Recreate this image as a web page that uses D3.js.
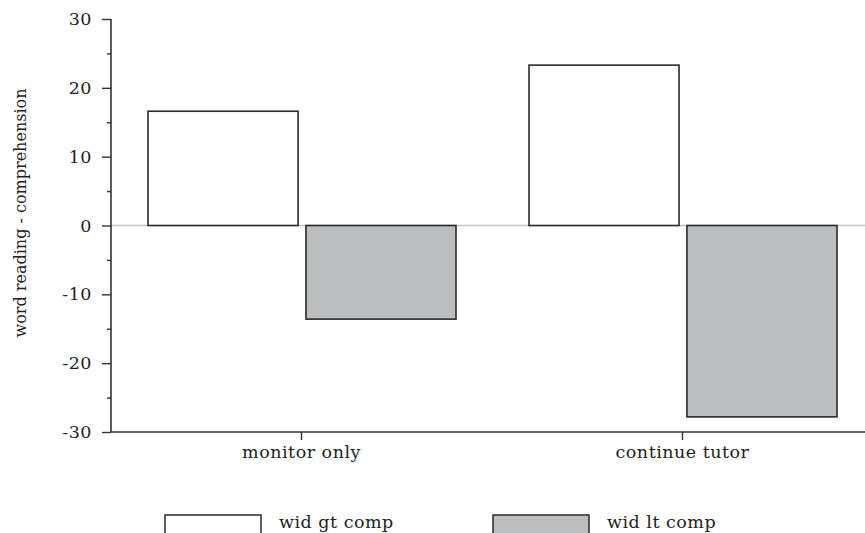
<!DOCTYPE html>
<html>
<head>
<meta charset="utf-8">
<script src="https://cdn.jsdelivr.net/npm/d3@7"></script>
<style>
  html, body { margin: 0; padding: 0; background: #fff; }
  svg { display: block; }
  text { font-family: "DejaVu Serif", serif; fill: #222; }
</style>
</head>
<body>
<svg id="chart" width="865" height="533"></svg>
<script>
const categories = ["monitor only", "continue tutor"];
const seriesNames = ["wid gt comp", "wid lt comp"];
const seriesColors = ["#ffffff", "#bcbdbf"];
const widGtComp = [16.6, 23.3];
const widLtComp = [-13.6, -27.8];
const yTicks = [-30, -20, -10, 0, 10, 20, 30];
const yMinorTicks = [-25, -15, -5, 5, 15, 25];
const yLabel = "word reading - comprehension";

const series = [widGtComp, widLtComp];
const svg = d3.select("#chart");
const fontSize = 17.5;
const spacing = 0.5;

const x0 = 111, yTop = 19, yBot = 432;
const y = d3.scaleLinear().domain([-30, 30]).range([yBot, yTop]);
const xBand = d3.scaleBand().domain(categories).range([x0, x0 + 762]).paddingInner(0).paddingOuter(0);
const xInner = d3.scaleBand().domain(d3.range(series.length)).range([37, xBand.bandwidth() - 36]).paddingInner(0.05);

// zero reference line
svg.append("line")
  .attr("x1", x0).attr("x2", 865)
  .attr("y1", y(0)).attr("y2", y(0))
  .attr("stroke", "#c4c4c4").attr("stroke-width", 1.5);

// bars
categories.forEach((c, i) => {
  series.forEach((s, j) => {
    const v = s[i];
    svg.append("rect")
      .attr("x", xBand(c) + xInner(j))
      .attr("width", xInner.bandwidth())
      .attr("y", y(Math.max(0, v)))
      .attr("height", Math.abs(y(v) - y(0)))
      .attr("fill", seriesColors[j])
      .attr("stroke", "#2a2a2a")
      .attr("stroke-width", 1.6);
  });
});

// y axis
const yAxis = d3.axisLeft(y).tickValues(yTicks).tickSize(9).tickPadding(10).tickFormat(d => String(d));
const gy = svg.append("g").attr("transform", `translate(${x0},0)`).call(yAxis);
gy.select(".domain").attr("stroke", "#333").attr("stroke-width", 1.6).attr("d", `M0,${yTop}V${yBot}`);
gy.selectAll(".tick line").attr("stroke", "#333").attr("stroke-width", 1.4);
gy.selectAll(".tick text").attr("font-family", "DejaVu Serif").attr("font-size", fontSize)
  .attr("letter-spacing", spacing).attr("fill", "#222");
const yMinor = d3.axisLeft(y).tickValues(yMinorTicks).tickSize(4).tickFormat("");
const gym = svg.append("g").attr("transform", `translate(${x0},0)`).call(yMinor);
gym.select(".domain").remove();
gym.selectAll(".tick line").attr("stroke", "#333").attr("stroke-width", 1.4);

// x axis
const xAxis = d3.axisBottom(xBand).tickSize(8).tickPadding(6);
const gx = svg.append("g").attr("transform", `translate(0,${yBot})`).call(xAxis);
gx.select(".domain").attr("stroke", "#333").attr("stroke-width", 1.6).attr("d", `M${x0},0H865`);
gx.selectAll(".tick line").attr("stroke", "#333").attr("stroke-width", 1.4);
gx.selectAll(".tick text").attr("font-family", "DejaVu Serif").attr("font-size", fontSize)
  .attr("letter-spacing", spacing).attr("fill", "#222");

// y label
svg.append("text")
  .attr("transform", `translate(26,${(89 + 337) / 2}) rotate(-90)`)
  .attr("text-anchor", "middle")
  .attr("font-size", 16)
  .text(yLabel);

// legend
const legendX = [165, 493];
seriesNames.forEach((n, j) => {
  svg.append("rect")
    .attr("x", legendX[j]).attr("y", 515)
    .attr("width", 96).attr("height", 30)
    .attr("fill", seriesColors[j]).attr("stroke", "#2a2a2a").attr("stroke-width", 1.5);
  svg.append("text")
    .attr("x", legendX[j] + 114).attr("y", 528)
    .attr("font-size", fontSize)
    .attr("letter-spacing", spacing)
    .text(n);
});
</script>
</body>
</html>
